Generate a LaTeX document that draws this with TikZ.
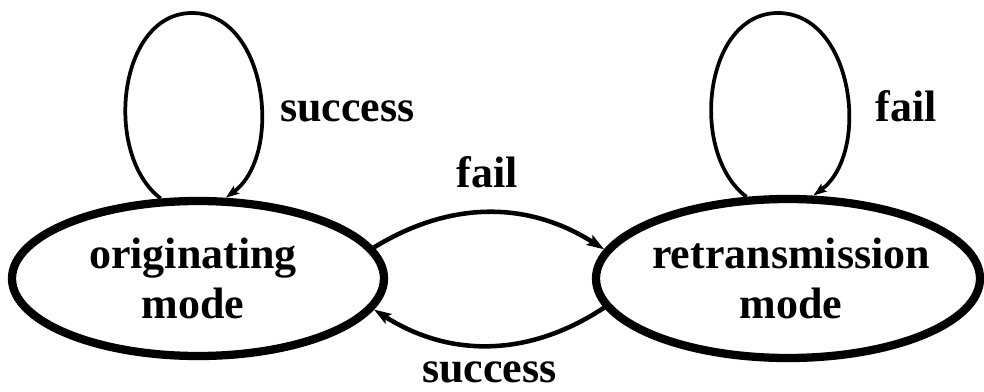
\documentclass[tikz,border=0pt]{standalone}
\usepackage{fontspec}
\setmainfont{Liberation Serif}
\usetikzlibrary{shapes.geometric,arrows.meta}
\begin{document}
\begin{tikzpicture}[x=0.75pt,y=-0.75pt,
  modestate/.style={draw, ellipse, line width=6.2pt, inner sep=0pt},
  modelabel/.style={font=\fontsize{33}{37.5}\selectfont\bfseries, align=center, inner sep=0pt},
  edgelabel/.style={font=\fontsize{33}{37.5}\selectfont\bfseries, inner sep=0pt, anchor=base},
  transition/.style={line width=3.4pt, -{Stealth[length=13pt,width=8.5pt,inset=2.5pt]}},
  selfloop/.style={line width=2.8pt, -{Stealth[length=10pt,width=7pt,inset=2pt]}}]
\useasboundingbox (0,0) rectangle (984,392);

% the two operating modes
\node[modestate, minimum width=279pt, minimum height=116.25pt] (orig) at (198,278.5) {};
\node[modelabel] (origtext) at (193,278.5) {originating\\mode};
\node[modestate, minimum width=288pt, minimum height=119.25pt] (retr) at (788,278.5) {};
\node[modelabel] (retrtext) at (791,278.5) {retransmission\\mode};

% self loops
\coordinate (ltop) at (192,13);
\coordinate (rtop) at (778,13);
\draw[selfloop] (orig.115) .. controls +(-58,-44) and +(-74,0) .. (ltop)
  .. controls +(75,0) and +(58,-43) .. (orig.71);
\draw[selfloop] (retr.117) .. controls +(-58,-44) and +(-74,0) .. (rtop)
  .. controls +(75,0) and +(58,-43) .. (retr.73);

% transitions between the modes
\draw[transition] (orig.10) to[bend left=32] (retr.171);
\draw[transition] (retr.189) to[bend left=33] (orig.350);

% transition labels
\node[edgelabel] (lsucc) at (347.5,122) {success};
\node[edgelabel] (rfail) at (906.5,122) {fail};
\node[edgelabel] (mfail) at (487,187) {fail};
\node[edgelabel] (msucc) at (489.5,382) {success};
\end{tikzpicture}
\end{document}
